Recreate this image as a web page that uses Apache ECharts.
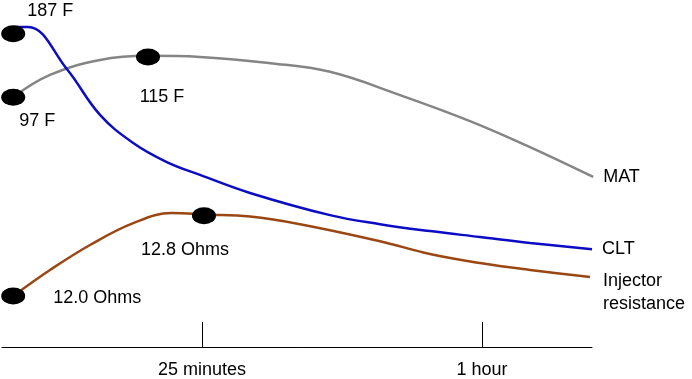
<!DOCTYPE html>
<html>
<head>
<meta charset="utf-8">
<script src="https://cdn.jsdelivr.net/npm/echarts@6/dist/echarts.min.js"></script>
<style>html,body{margin:0;padding:0;background:#fff}#c{width:692px;height:379px}</style>
</head>
<body>
<div id="c"></div>
<script>
// time in minutes, relative level (schematic, no real y scale)
const cltData = [[1.5,92.2],[3.25,92.2],[8.1,80.1],[12.25,66.9],[16.4,58.8],[20.6,53.3],[24.75,49.6],[31,44.4],[41,38.0],[47.25,35.4],[53.5,33.4],[59.75,31.7],[66,30.0],[73.75,28.2]];
const matData = [[1.4,72.0],[6,78.4],[12.25,82.7],[18.25,83.9],[24.75,83.6],[33.5,81.8],[41,79.3],[49.75,72.6],[58.5,65.1],[66,57.6],[73.9,49.0]];
const injData = [[1.4,14.7],[6,22.2],[11,29.4],[16.4,35.7],[21.25,38.6],[25.4,38.2],[31,37.6],[37.25,35.4],[47.25,30.5],[53.5,26.8],[59.75,24.2],[66,22.2],[73.5,20.2]];
const seriesNames = ['CLT','MAT','Injector\nresistance'];
const markerPoints = [[1.4,90.3],[1.4,72.0],[18.25,83.6],[1.4,14.7],[25.25,37.8]];
const markerLabels = ['187 F','97 F','115 F','12.0 Ohms','12.8 Ohms'];
const labelOffsets = [[37,-23],[24,24],[14,40],[84,2],[-19,34]];
const tickValues = [25,60];
const tickLabels = {25:'25 minutes',60:'1 hour'};

const font = 'Liberation Sans, Arial, sans-serif';
const chart = echarts.init(document.getElementById('c'), null, {renderer:'canvas'});
function lineSeries(name, data, color, endOffset){
  return {
    type:'line', name:name, data:data, smooth:0.4, showSymbol:false, symbol:'none',
    lineStyle:{color:color, width:2.5}, animation:false, z:2,
    endLabel:{show:true, formatter:name, distance:10, offset:endOffset, color:'#000',
      fontFamily:font, fontSize:18, lineHeight:23, align:'left'}
  };
}
chart.setOption({
  animation:false,
  backgroundColor:'#fff',
  grid:{left:2, right:100, top:0, bottom:32, containLabel:false},
  xAxis:{type:'value', min:0, max:73.75,
    axisLine:{show:true, lineStyle:{color:'#000', width:1}},
    axisTick:{show:true, inside:true, length:25, customValues:tickValues, lineStyle:{color:'#000', width:1}},
    axisLabel:{show:true, customValues:tickValues, margin:14, color:'#000', fontFamily:font, fontSize:18,
      formatter:v=>tickLabels[v]||''},
    splitLine:{show:false}},
  yAxis:{type:'value', min:0, max:100, show:false, splitLine:{show:false}},
  series:[
    lineSeries(seriesNames[1], matData, '#858585', [0,0]),
    lineSeries(seriesNames[0], cltData, '#0c0cc4', [0,0]),
    lineSeries(seriesNames[2], injData, '#9a4714', [3,16]),
    {type:'scatter', z:5, symbol:'circle', symbolSize:[24,17],
      itemStyle:{color:'#000', opacity:1},
      data: markerPoints.map((p,i)=>({value:p,
        label:{show:true, formatter:markerLabels[i], position:'inside', offset:labelOffsets[i],
          color:'#000', opacity:1, fontFamily:font, fontSize:18, align:'center', verticalAlign:'middle'}}))}
  ]
});
</script>
</body>
</html>
